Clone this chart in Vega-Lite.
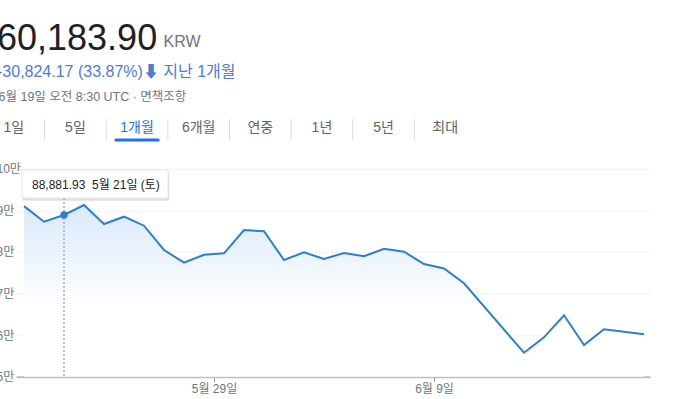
{
  "$schema": "https://vega.github.io/schema/vega-lite/v6.json",
  "width": 634,
  "height": 208,
  "autosize": {"type": "none"},
  "padding": {"left": 16, "top": 168.7, "right": 23, "bottom": 22.3},
  "background": "white",
  "title": {
    "text": "60,183.90",
    "subtitle": "-30,824.17 (33.87%)⬇ 지난 1개월",
    "anchor": "start",
    "frame": "group",
    "fontSize": 36,
    "fontWeight": "normal",
    "color": "#202124",
    "subtitleFontSize": 16,
    "subtitleColor": "#4c7bd9",
    "subtitlePadding": 6,
    "dx": -19,
    "dy": 47,
    "offset": 0
  },
  "datasets": {
    "prices": [
      {"date": "2022-05-19T12:00", "price": 91008.07},
      {"date": "2022-05-20T12:00", "price": 87260},
      {"date": "2022-05-21T12:00", "price": 88881.93},
      {"date": "2022-05-22T12:00", "price": 91274},
      {"date": "2022-05-23T12:00", "price": 86707},
      {"date": "2022-05-24T12:00", "price": 88462},
      {"date": "2022-05-25T12:00", "price": 86298},
      {"date": "2022-05-26T12:00", "price": 80457},
      {"date": "2022-05-27T12:00", "price": 77404},
      {"date": "2022-05-28T12:00", "price": 79327},
      {"date": "2022-05-29T12:00", "price": 79663},
      {"date": "2022-05-30T12:00", "price": 85264},
      {"date": "2022-05-31T12:00", "price": 84952},
      {"date": "2022-06-01T12:00", "price": 78053},
      {"date": "2022-06-02T12:00", "price": 79904},
      {"date": "2022-06-03T12:00", "price": 78293},
      {"date": "2022-06-04T12:00", "price": 79736},
      {"date": "2022-06-05T12:00", "price": 78942},
      {"date": "2022-06-06T12:00", "price": 80769},
      {"date": "2022-06-07T12:00", "price": 80048},
      {"date": "2022-06-08T12:00", "price": 77091},
      {"date": "2022-06-09T12:00", "price": 76000},
      {"date": "2022-06-10T12:00", "price": 72452},
      {"date": "2022-06-13T12:00", "price": 55769},
      {"date": "2022-06-14T12:00", "price": 59471},
      {"date": "2022-06-15T12:00", "price": 64760},
      {"date": "2022-06-16T12:00", "price": 57620},
      {"date": "2022-06-17T12:00", "price": 61394},
      {"date": "2022-06-19T12:00", "price": 60183.9}
    ],
    "tabs": [
      {"tab": "1일"}, {"tab": "5일"}, {"tab": "1개월"}, {"tab": "6개월"},
      {"tab": "연중"}, {"tab": "1년"}, {"tab": "5년"}, {"tab": "최대"}
    ]
  },
  "layer": [
    {
      "data": {"name": "prices"},
      "encoding": {
        "x": {
          "field": "date",
          "type": "temporal",
          "scale": {
            "domain": [
              {"year": 2022, "month": 5, "date": 19, "hours": 2, "minutes": 24},
              {"year": 2022, "month": 6, "date": 19, "hours": 19, "minutes": 12}
            ],
            "nice": false
          },
          "axis": {
            "values": [
              {"year": 2022, "month": 5, "date": 29},
              {"year": 2022, "month": 6, "date": 9}
            ],
            "format": "%-m월 %-d일",
            "title": null,
            "grid": false,
            "domainColor": "#bdbdbd",
            "domainWidth": 2,
            "tickColor": "#9aa0a6",
            "tickSize": 5,
            "labelPadding": 2,
            "labelFontSize": 12,
            "labelColor": "#70757a"
          }
        },
        "y": {
          "field": "price",
          "type": "quantitative",
          "scale": {"domain": [50000, 100000], "zero": false, "nice": false},
          "axis": {
            "values": [50000, 60000, 70000, 80000, 90000, 100000],
            "labelExpr": "(datum.value / 10000) + '만'",
            "ticks": false,
            "domain": false,
            "labelAlign": "left",
            "labelPadding": 20,
            "labelFontSize": 12,
            "labelColor": "#70757a",
            "gridColor": "#f1f3f4",
            "title": "KRW",
            "titleAngle": 0,
            "titleX": 147,
            "titleY": -122,
            "titleAlign": "left",
            "titleBaseline": "alphabetic",
            "titleFontSize": 16,
            "titleFontWeight": "normal",
            "titleColor": "#70757a"
          }
        }
      },
      "layer": [
        {
          "mark": {
            "type": "area",
            "color": {
              "gradient": "linear",
              "x1": 0, "y1": 0, "x2": 0, "y2": 1,
              "stops": [
                {"offset": 0, "color": "#d9e9fa"},
                {"offset": 0.6, "color": "#ffffff"}
              ]
            }
          },
          "encoding": {"y2": {"datum": 50000}}
        },
        {
          "mark": {"type": "line", "color": "#2a7fd4", "strokeWidth": 2}
        },
        {
          "transform": [{"filter": "datum.price == 88881.93"}],
          "mark": {"type": "rule", "color": "#80868b", "strokeDash": [2, 2], "strokeWidth": 1},
          "encoding": {"y": {"datum": 92957}, "y2": {"datum": 50000}}
        },
        {
          "transform": [{"filter": "datum.price == 88881.93"}],
          "mark": {"type": "point", "filled": true, "opacity": 1, "color": "#2a7fd4", "size": 55}
        },
        {
          "transform": [{"filter": "datum.price == 88881.93"}],
          "mark": {"type": "rect", "color": "#000000", "opacity": 0.12},
          "encoding": {
            "x": {"datum": {"year": 2022, "month": 5, "date": 19, "hours": 10, "minutes": 0}},
            "x2": {"datum": {"year": 2022, "month": 5, "date": 26, "hours": 18, "minutes": 30}},
            "y": {"datum": 99300},
            "y2": {"datum": 92300}
          }
        },
        {
          "transform": [{"filter": "datum.price == 88881.93"}],
          "mark": {"type": "rect", "color": "#ffffff", "stroke": "#e6e6e6", "strokeWidth": 1},
          "encoding": {
            "x": {"datum": {"year": 2022, "month": 5, "date": 19, "hours": 9, "minutes": 36}},
            "x2": {"datum": {"year": 2022, "month": 5, "date": 26, "hours": 16, "minutes": 48}},
            "y": {"datum": 99688},
            "y2": {"datum": 92957}
          }
        },
        {
          "transform": [{"filter": "datum.price == 88881.93"}],
          "mark": {"type": "text", "align": "left", "baseline": "alphabetic", "fontSize": 12, "color": "#202124"},
          "encoding": {
            "x": {"datum": {"year": 2022, "month": 5, "date": 19, "hours": 21, "minutes": 36}},
            "y": {"datum": 95120},
            "text": {"field": "price", "type": "quantitative", "format": ",.2f"}
          }
        },
        {
          "transform": [{"filter": "datum.price == 88881.93"}],
          "mark": {"type": "text", "align": "left", "baseline": "alphabetic", "fontSize": 12, "color": "#202124"},
          "encoding": {
            "x": {"datum": {"year": 2022, "month": 5, "date": 22, "hours": 21, "minutes": 36}},
            "y": {"datum": 95120},
            "text": {"field": "date", "type": "temporal", "format": "%-m월 %-d일 (%a)"}
          }
        }
      ]
    },
    {
      "data": {"name": "tabs"},
      "encoding": {
        "x": {
          "field": "tab",
          "type": "nominal",
          "sort": null,
          "scale": {
            "domain": ["1일", "5일", "1개월", "6개월", "연중", "1년", "5년", "최대"],
            "range": [-33, 460],
            "paddingInner": 0,
            "paddingOuter": 0
          },
          "axis": {
            "orient": "top",
            "labels": false,
            "ticks": false,
            "domain": false,
            "grid": false,
            "title": "6월 19일 오전 8:30 UTC · 면책조항",
            "titleX": -18,
            "titleY": -68.7,
            "titleAlign": "left",
            "titleAnchor": "start",
            "titleBaseline": "alphabetic",
            "titleFontSize": 12.5,
            "titleFontWeight": "normal",
            "titleColor": "#70757a"
          }
        }
      },
      "layer": [
        {
          "mark": {"type": "text", "fontSize": 14, "baseline": "middle"},
          "encoding": {
            "y": {"datum": 109784, "type": "quantitative", "scale": {"domain": [50000, 100000], "zero": false, "nice": false}},
            "text": {"field": "tab"},
            "color": {"condition": {"test": "datum.tab === '1개월'", "value": "#1a73e8"}, "value": "#5f6368"}
          }
        },
        {
          "transform": [{"filter": "datum.tab !== '1일'"}],
          "mark": {"type": "rule", "color": "#dadce0", "strokeWidth": 1},
          "encoding": {
            "x": {"field": "tab", "type": "nominal", "bandPosition": 0},
            "y": {"datum": 111947, "type": "quantitative"},
            "y2": {"datum": 106899}
          }
        },
        {
          "transform": [{"filter": "datum.tab === '1개월'"}],
          "mark": {"type": "bar", "color": "#1a73e8", "cornerRadiusTopLeft": 3, "cornerRadiusTopRight": 3, "width": {"band": 0.73}},
          "encoding": {
            "y": {"datum": 107260, "type": "quantitative"},
            "y2": {"datum": 106538}
          }
        }
      ]
    }
  ],
  "resolve": {"scale": {"x": "independent"}, "axis": {"x": "independent"}},
  "config": {
    "font": "Liberation Sans, Noto Sans CJK KR, sans-serif",
    "view": {"stroke": null},
    "axis": {"labelFont": "Liberation Sans, Noto Sans CJK KR, sans-serif", "titleFont": "Liberation Sans, Noto Sans CJK KR, sans-serif"},
    "title": {"font": "Liberation Sans, Noto Sans CJK KR, sans-serif", "subtitleFont": "Liberation Sans, Noto Sans CJK KR, sans-serif"},
    "locale": {
      "time": {
        "dateTime": "%Y/%m/%d %a %X",
        "date": "%Y. %m. %d.",
        "time": "%p %I:%M:%S",
        "periods": ["오전", "오후"],
        "days": ["일요일", "월요일", "화요일", "수요일", "목요일", "금요일", "토요일"],
        "shortDays": ["일", "월", "화", "수", "목", "금", "토"],
        "months": ["1월", "2월", "3월", "4월", "5월", "6월", "7월", "8월", "9월", "10월", "11월", "12월"],
        "shortMonths": ["1월", "2월", "3월", "4월", "5월", "6월", "7월", "8월", "9월", "10월", "11월", "12월"]
      }
    }
  }
}
